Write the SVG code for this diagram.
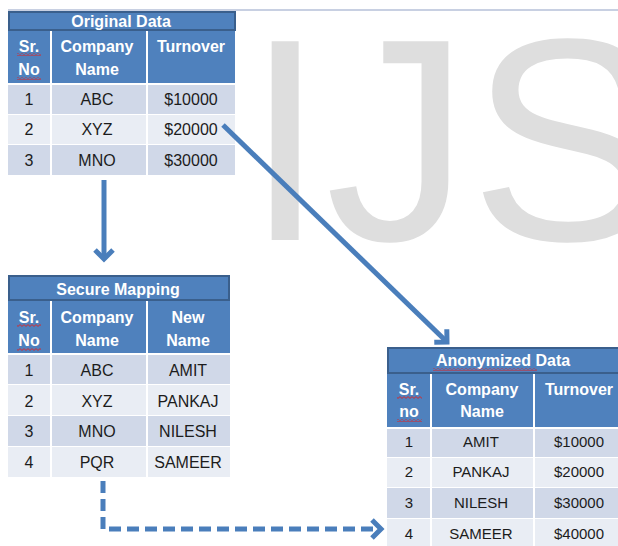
<svg xmlns="http://www.w3.org/2000/svg" width="618" height="546" viewBox="0 0 618 546">
  <defs>
    <style>
      .title-bar { fill: #4f81bd; stroke: #3a5f8c; stroke-width: 2; }
      .head { fill: #4f81bd; }
      .odd { fill: #d0d8e8; }
      .even { fill: #e9edf4; }
      .th { font-family: "Liberation Sans", Arial, sans-serif; font-weight: bold; font-size: 16px; fill: #ffffff; text-anchor: middle; }
      .td { font-family: "Liberation Sans", Arial, sans-serif; font-size: 16px; fill: #1c1c1c; text-anchor: middle; }
      .td-s { font-family: "Liberation Sans", Arial, sans-serif; font-size: 15px; fill: #1c1c1c; text-anchor: middle; }
      .flow { fill: none; stroke: #4a7ebb; stroke-width: 5; }
      .dashed { stroke-dasharray: 12 6; }
      .squiggle { fill: url(#wavy); }
      .watermark { font-family: "Liberation Sans", Arial, sans-serif; font-size: 289px; fill: #dedede; }
    </style>
    <!-- red spell-check underline -->
    <pattern id="wavy" patternUnits="userSpaceOnUse" width="4" height="3">
      <path d="M0,0.6 L2,2.4 L4,0.6" fill="none" stroke="#e02020" stroke-width="0.9"/>
    </pattern>
    <!-- open chevron arrowhead -->
    <marker id="chevron" markerUnits="userSpaceOnUse" viewBox="-14 -12 18 24" refX="0" refY="0" markerWidth="18" markerHeight="24" orient="auto" overflow="visible">
      <path d="M-9,-9 L0,0 L-9,9" fill="none" stroke="#4a7ebb" stroke-width="5" stroke-linejoin="miter"/>
    </marker>
  </defs>

  <!-- slide frame line -->
  <line x1="8" y1="10" x2="618" y2="10" stroke="#c8d0e2" stroke-width="2"/>

  <!-- watermark -->
  <text class="watermark" x="245" y="240">IJS</text>

  <!-- Original Data table -->
  <g id="original-data">
    <rect class="title-bar" x="9" y="12" width="226" height="18"/>
    <text class="th" x="121" y="27">Original Data</text>
    <rect class="head" x="8" y="31" width="42" height="52"/>
    <rect class="head" x="52" y="31" width="94" height="52"/>
    <rect class="head" x="148" y="31" width="87" height="52"/>
    <text class="th" x="29" y="52">Sr.</text>
    <text class="th" x="29" y="75">No</text>
    <rect class="squiggle" x="17" y="53" width="24" height="3"/>
    <rect class="squiggle" x="17" y="77" width="24" height="3"/>
    <text class="th" x="97" y="52">Company</text>
    <text class="th" x="97" y="75">Name</text>
    <text class="th" x="191" y="52">Turnover</text>

    <rect class="odd" x="8" y="85" width="42" height="29"/>
    <rect class="odd" x="52" y="85" width="94" height="29"/>
    <rect class="odd" x="148" y="85" width="87" height="29"/>
    <rect class="even" x="8" y="115" width="42" height="29"/>
    <rect class="even" x="52" y="115" width="94" height="29"/>
    <rect class="even" x="148" y="115" width="87" height="29"/>
    <rect class="odd" x="8" y="145" width="42" height="30"/>
    <rect class="odd" x="52" y="145" width="94" height="30"/>
    <rect class="odd" x="148" y="145" width="87" height="30"/>

    <text class="td" x="29" y="105">1</text>
    <text class="td" x="97" y="105">ABC</text>
    <text class="td" x="191" y="105">$10000</text>
    <text class="td" x="29" y="135">2</text>
    <text class="td" x="97" y="135">XYZ</text>
    <text class="td" x="191" y="135">$20000</text>
    <text class="td" x="29" y="166">3</text>
    <text class="td" x="97" y="166">MNO</text>
    <text class="td" x="191" y="166">$30000</text>
  </g>

  <!-- Secure Mapping table -->
  <g id="secure-mapping">
    <rect class="title-bar" x="9" y="276" width="220" height="24"/>
    <text class="th" x="118" y="295">Secure Mapping</text>
    <rect class="head" x="8" y="301" width="42" height="52"/>
    <rect class="head" x="52" y="301" width="94" height="52"/>
    <rect class="head" x="148" y="301" width="82" height="52"/>
    <text class="th" x="29" y="323">Sr.</text>
    <text class="th" x="29" y="346">No</text>
    <rect class="squiggle" x="17" y="324" width="24" height="3"/>
    <rect class="squiggle" x="17" y="348" width="24" height="3"/>
    <text class="th" x="97" y="323">Company</text>
    <text class="th" x="97" y="346">Name</text>
    <text class="th" x="188" y="323">New</text>
    <text class="th" x="188" y="346">Name</text>

    <rect class="odd" x="8" y="355" width="42" height="29"/>
    <rect class="odd" x="52" y="355" width="94" height="29"/>
    <rect class="odd" x="148" y="355" width="82" height="29"/>
    <rect class="even" x="8" y="385" width="42" height="30"/>
    <rect class="even" x="52" y="385" width="94" height="30"/>
    <rect class="even" x="148" y="385" width="82" height="30"/>
    <rect class="odd" x="8" y="416" width="42" height="30"/>
    <rect class="odd" x="52" y="416" width="94" height="30"/>
    <rect class="odd" x="148" y="416" width="82" height="30"/>
    <rect class="even" x="8" y="447" width="42" height="30"/>
    <rect class="even" x="52" y="447" width="94" height="30"/>
    <rect class="even" x="148" y="447" width="82" height="30"/>

    <text class="td" x="29" y="376">1</text>
    <text class="td" x="97" y="376">ABC</text>
    <text class="td" x="188" y="376">AMIT</text>
    <text class="td" x="29" y="407">2</text>
    <text class="td" x="97" y="407">XYZ</text>
    <text class="td" x="188" y="407">PANKAJ</text>
    <text class="td" x="29" y="437">3</text>
    <text class="td" x="97" y="437">MNO</text>
    <text class="td" x="188" y="437">NILESH</text>
    <text class="td" x="29" y="468">4</text>
    <text class="td" x="97" y="468">PQR</text>
    <text class="td" x="188" y="468">SAMEER</text>
  </g>

  <!-- Anonymized Data table -->
  <g id="anonymized-data">
    <rect class="title-bar" x="388" y="348" width="234" height="25"/>
    <text class="th" x="503" y="366">Anonymized Data</text>
    <rect class="squiggle" x="433" y="368" width="104" height="3"/>
    <rect class="head" x="387" y="374" width="43" height="53"/>
    <rect class="head" x="432" y="374" width="101" height="53"/>
    <rect class="head" x="535" y="374" width="83" height="53"/>
    <text class="th" x="409" y="395">Sr.</text>
    <text class="th" x="409" y="417">no</text>
    <rect class="squiggle" x="397" y="396" width="25" height="3"/>
    <rect class="squiggle" x="397" y="419" width="25" height="3"/>
    <text class="th" x="482" y="395">Company</text>
    <text class="th" x="482" y="417">Name</text>
    <text class="th" x="579" y="395">Turnover</text>

    <rect class="odd" x="387" y="429" width="43" height="28"/>
    <rect class="odd" x="432" y="429" width="101" height="28"/>
    <rect class="odd" x="535" y="429" width="83" height="28"/>
    <rect class="even" x="387" y="458" width="43" height="29"/>
    <rect class="even" x="432" y="458" width="101" height="29"/>
    <rect class="even" x="535" y="458" width="83" height="29"/>
    <rect class="odd" x="387" y="488" width="43" height="30"/>
    <rect class="odd" x="432" y="488" width="101" height="30"/>
    <rect class="odd" x="535" y="488" width="83" height="30"/>
    <rect class="even" x="387" y="519" width="43" height="27"/>
    <rect class="even" x="432" y="519" width="101" height="27"/>
    <rect class="even" x="535" y="519" width="83" height="27"/>

    <text class="td-s" x="409" y="447">1</text>
    <text class="td-s" x="481" y="447">AMIT</text>
    <text class="td-s" x="579" y="447">$10000</text>
    <text class="td-s" x="409" y="477">2</text>
    <text class="td-s" x="481" y="477">PANKAJ</text>
    <text class="td-s" x="579" y="477">$20000</text>
    <text class="td-s" x="409" y="508">3</text>
    <text class="td-s" x="481" y="508">NILESH</text>
    <text class="td-s" x="579" y="508">$30000</text>
    <text class="td-s" x="409" y="539">4</text>
    <text class="td-s" x="481" y="539">SAMEER</text>
    <text class="td-s" x="579" y="539">$40000</text>
  </g>

  <!-- connectors -->
  <g id="connectors">
    <path class="flow" d="M104,180 V259" marker-end="url(#chevron)"/>
    <path class="flow" d="M223,125 L447,342" marker-end="url(#chevron)"/>
    <path class="flow dashed" d="M103,481 V529 H381" marker-end="url(#chevron)"/>
  </g>
</svg>
